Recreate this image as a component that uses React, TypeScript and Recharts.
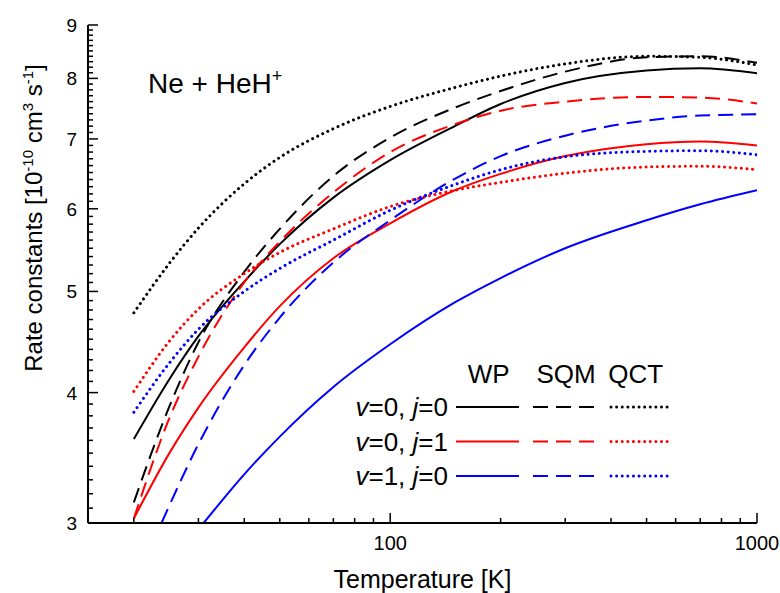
import { LineChart, Line, XAxis, YAxis, Legend } from 'recharts'

const temps = [20, 25, 30, 40, 50, 70, 100, 150, 200, 300, 500, 700, 1000]
// v=1 curves enter the frame from below, so they start later
const tempsV1WP = [31, 40, 50, 70, 100, 150, 200, 300, 500, 700, 1000]
const tempsV1SQM = [23.8, 30, 40, 50, 70, 100, 150, 200, 300, 500, 700, 1000]

// Rate constants [1e-10 cm3 s-1]
const wpV0J0 = [3.61, 4.12, 4.53, 5.11, 5.55, 6.15, 6.68, 7.2, 7.56, 7.92, 8.14, 8.18, 8.09]
const sqmV0J0 = [3.14, 3.88, 4.47, 5.22, 5.74, 6.45, 7.02, 7.5, 7.78, 8.12, 8.38, 8.4, 8.28]
const qctV0J0 = [4.77, 5.32, 5.75, 6.34, 6.72, 7.16, 7.52, 7.84, 8.04, 8.26, 8.4, 8.38, 8.24]

const wpV0J1 = [3.03, 3.5, 3.87, 4.42, 4.84, 5.38, 5.81, 6.25, 6.48, 6.74, 6.92, 6.96, 6.9]
const sqmV0J1 = [3.03, 3.78, 4.33, 5.1, 5.58, 6.22, 6.8, 7.23, 7.45, 7.6, 7.68, 7.67, 7.57]
const qctV0J1 = [4.01, 4.48, 4.81, 5.2, 5.45, 5.74, 6.03, 6.25, 6.36, 6.49, 6.58, 6.59, 6.54]

const wpV1J0 = [3.0, 3.34, 3.63, 4.05, 4.45, 4.88, 5.15, 5.5, 5.85, 6.06, 6.25]
const sqmV1J0 = [3.0, 3.57, 4.25, 4.72, 5.33, 5.85, 6.41, 6.74, 7.05, 7.29, 7.37, 7.39]
const qctV1J0 = [3.83, 4.27, 4.6, 5.0, 5.26, 5.6, 5.98, 6.33, 6.54, 6.73, 6.81, 6.82, 6.76]

const xTicks = [20, 30, 40, 50, 60, 70, 80, 90, 100, 200, 300, 400, 500, 600, 700, 800, 900, 1000]
const xLabels = [100, 1000]
const yTicks = Array.from({ length: 61 }, (_, i) => Math.round((3 + i * 0.1) * 10) / 10)
const yLabels = [3, 4, 5, 6, 7, 8, 9]

const legendRows = ['0|0', '0|1', '1|0']
const legendCols = ['WP', 'SQM', 'QCT']

const FONT = '"Liberation Sans", Arial, Helvetica, sans-serif'
const COLORS = ['#000000', '#ff0000', '#0000ff']

const STYLES: Record<string, { strokeWidth: number; strokeDasharray?: string; strokeLinecap?: 'round' | 'butt' }> = {
  WP: { strokeWidth: 2 },
  SQM: { strokeWidth: 2, strokeDasharray: '15 8' },
  QCT: { strokeWidth: 3, strokeDasharray: '0.01 5.6', strokeLinecap: 'round' },
}

const toPoints = (t: number[], k: number[]) => t.map((T, i) => ({ T, k: k[i] }))

const series = [
  { id: 'wp00', method: 'WP', color: COLORS[0], data: toPoints(temps, wpV0J0) },
  { id: 'wp01', method: 'WP', color: COLORS[1], data: toPoints(temps, wpV0J1) },
  { id: 'wp10', method: 'WP', color: COLORS[2], data: toPoints(tempsV1WP, wpV1J0) },
  { id: 'sqm00', method: 'SQM', color: COLORS[0], data: toPoints(temps, sqmV0J0) },
  { id: 'sqm01', method: 'SQM', color: COLORS[1], data: toPoints(temps, sqmV0J1) },
  { id: 'sqm10', method: 'SQM', color: COLORS[2], data: toPoints(tempsV1SQM, sqmV1J0) },
  { id: 'qct00', method: 'QCT', color: COLORS[0], data: toPoints(temps, qctV0J0) },
  { id: 'qct01', method: 'QCT', color: COLORS[1], data: toPoints(temps, qctV0J1) },
  { id: 'qct10', method: 'QCT', color: COLORS[2], data: toPoints(temps, qctV1J0) },
]

// inward ticks, majors longer
const BottomTick = ({ x, y, payload }: any) => {
  const v = payload.value
  const major = xLabels.includes(v)
  return (
    <g>
      <line x1={x} x2={x} y1={y} y2={y - (major ? 10 : 5)} stroke="#000" strokeWidth={1.5} />
      {major && (
        <text x={x} y={y + 27} textAnchor="middle" fontSize={20} fontFamily={FONT} fill="#000">
          {v}
        </text>
      )}
    </g>
  )
}

const TopTick = ({ x, y, payload }: any) => {
  const major = xLabels.includes(payload.value)
  return <line x1={x} x2={x} y1={y} y2={y + (major ? 10 : 5)} stroke="#000" strokeWidth={1.5} />
}

const LeftTick = ({ x, y, payload }: any) => {
  const v = payload.value
  const major = yLabels.includes(v)
  return (
    <g>
      <line x1={x} x2={x + (major ? 10 : 5)} y1={y} y2={y} stroke="#000" strokeWidth={1.5} />
      {major && (
        <text x={x - 11} y={y + 7} textAnchor="end" fontSize={19} fontFamily={FONT} fill="#000">
          {v}
        </text>
      )}
    </g>
  )
}

const RightTick = ({ x, y, payload }: any) => {
  const major = yLabels.includes(payload.value)
  return <line x1={x} x2={x - (major ? 10 : 5)} y1={y} y2={y} stroke="#000" strokeWidth={1.5} />
}

const YTitle = () => (
  <text transform="translate(41.5, 218) rotate(-90)" textAnchor="middle" fontSize={24} fontFamily={FONT} fill="#000">
    Rate constants [10
    <tspan dy={-9} fontSize={15}>-10</tspan>
    <tspan dy={9}> cm</tspan>
    <tspan dy={-9} fontSize={15}>3</tspan>
    <tspan dy={9}> s</tspan>
    <tspan dy={-9} fontSize={15}>-1</tspan>
    <tspan dy={9}>]</tspan>
  </text>
)

const XTitle = () => (
  <text x={422.5} y={588} textAnchor="middle" fontSize={25} fontFamily={FONT} fill="#000">
    Temperature [K]
  </text>
)

const LegendTable = () => {
  const colX = [158.7, 236, 305.7]
  const lineX: [number, number][] = [
    [126, 189],
    [203, 267],
    [281, 342],
  ]
  return (
    <svg width={360} height={140} style={{ overflow: 'visible', fontFamily: FONT }}>
      {legendCols.map((c, i) => (
        <text key={c} x={colX[i]} y={28} textAnchor="middle" fontSize={26} fill="#000">
          {c}
        </text>
      ))}
      {legendRows.map((r, ri) => {
        const [v, j] = r.split('|')
        const base = 61 + ri * 34.5
        return (
          <g key={r}>
            <text x={118} y={base} textAnchor="end" fontSize={26} fill="#000">
              <tspan fontStyle="italic">v</tspan>={v}, <tspan fontStyle="italic">j</tspan>={j}
            </text>
            {legendCols.map((c, ci) => (
              <line
                key={c}
                x1={lineX[ci][0]}
                x2={lineX[ci][1]}
                y1={base - 9}
                y2={base - 9}
                stroke={COLORS[ri]}
                strokeWidth={STYLES[c].strokeWidth}
                strokeDasharray={STYLES[c].strokeDasharray}
                strokeLinecap={STYLES[c].strokeLinecap}
              />
            ))}
          </g>
        )
      })}
    </svg>
  )
}

export default function App() {
  return (
    <div style={{ position: 'absolute', left: 0, top: 0, width: 780, height: 593, background: '#fff' }}>
      <LineChart width={780} height={593} margin={{ top: 25, right: 23, bottom: 0, left: 0 }}>
        <XAxis
          dataKey="T"
          type="number"
          scale="log"
          domain={[15, 1000]}
          allowDataOverflow
          ticks={xTicks}
          interval={0}
          height={70}
          tickSize={0}
          tickMargin={0}
          tickLine={false}
          tick={BottomTick}
          axisLine={{ stroke: '#000', strokeWidth: 2 }}
          label={XTitle}
        />
        <XAxis
          xAxisId="top"
          orientation="top"
          dataKey="T"
          type="number"
          scale="log"
          domain={[15, 1000]}
          allowDataOverflow
          ticks={xTicks}
          interval={0}
          height={0}
          tickSize={0}
          tickMargin={0}
          tickLine={false}
          tick={TopTick}
          axisLine={{ stroke: '#000', strokeWidth: 2 }}
        />
        <YAxis
          type="number"
          scale="log"
          domain={[3, 9]}
          allowDataOverflow
          ticks={yTicks}
          interval={0}
          width={88}
          tickSize={0}
          tickMargin={0}
          tickLine={false}
          tick={LeftTick}
          axisLine={{ stroke: '#000', strokeWidth: 2 }}
          label={YTitle}
        />
        <YAxis
          yAxisId="right"
          orientation="right"
          type="number"
          scale="log"
          domain={[3, 9]}
          allowDataOverflow
          ticks={yTicks}
          interval={0}
          width={0}
          tickSize={0}
          tickMargin={0}
          tickLine={false}
          tick={RightTick}
          axisLine={{ stroke: '#000', strokeWidth: 2 }}
        />
        <Legend
          verticalAlign="middle"
          align="center"
          layout="horizontal"
          wrapperStyle={{ left: 330, top: 355, width: 360, height: 140 }}
          content={() => <LegendTable />}
        />
        {series.map((s) => (
          <Line
            key={s.id}
            data={s.data}
            dataKey="k"
            type="monotone"
            stroke={s.color}
            strokeWidth={STYLES[s.method].strokeWidth}
            strokeDasharray={STYLES[s.method].strokeDasharray}
            strokeLinecap={STYLES[s.method].strokeLinecap}
            dot={false}
            activeDot={false}
            isAnimationActive={false}
          />
        ))}
      </LineChart>
      <svg
        width={780}
        height={593}
        style={{ position: 'absolute', left: 0, top: 0, pointerEvents: 'none', fontFamily: FONT }}
      >
        <text x={148} y={92.7} fontSize={28} fill="#000">
          Ne + HeH
          <tspan dy={-11} fontSize={18}>+</tspan>
        </text>
      </svg>
    </div>
  )
}
